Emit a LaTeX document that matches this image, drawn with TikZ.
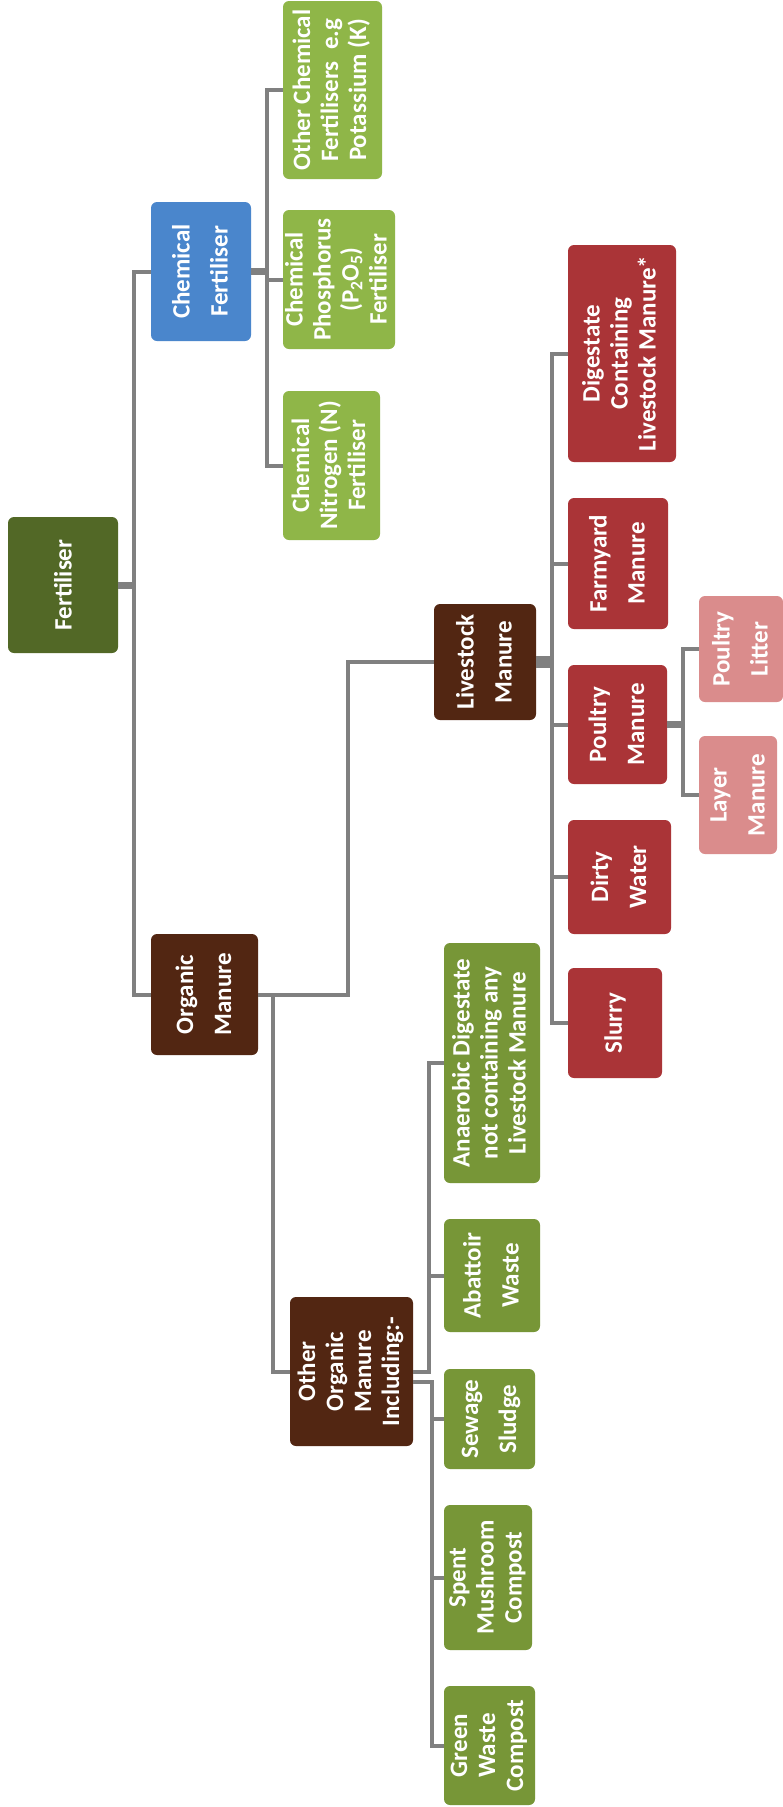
\documentclass[tikz,border=0pt]{standalone}
\usepackage{fontspec}
\setmainfont{Carlito}
\usepackage{graphicx}
\definecolor{cfert}{RGB}{82,104,38}
\definecolor{cblue}{RGB}{74,134,204}
\definecolor{clgreen}{RGB}{143,182,72}
\definecolor{cdgreen}{RGB}{119,150,55}
\definecolor{cbrown}{RGB}{82,38,18}
\definecolor{cred}{RGB}{170,52,55}
\definecolor{cpink}{RGB}{218,140,140}
\definecolor{linegray}{RGB}{128,128,128}
\newcommand\LinesWide[1]{\rotatebox{90}{\fontsize{25}{38}\selectfont\begin{tabular}{@{}c@{}}#1\end{tabular}}}
\newcommand\LinesTight[1]{\rotatebox{90}{\fontsize{25}{28}\selectfont\begin{tabular}{@{}c@{}}#1\end{tabular}}}
\tikzset{
  box/.style={rounded corners=6pt, inner sep=0pt, text=white, font=\bfseries},
  conn/.style={draw=linegray, line width=4pt},
  stubthick/.style={draw=linegray, line width=7pt},
}
\begin{document}
\begin{tikzpicture}[x=1pt,y=-1pt]
\useasboundingbox (0,0) rectangle (782,1807);
\fill[white] (0,0) rectangle (782,1807);

% nodes
\node[box, fill=cfert, minimum width=110pt, minimum height=136pt] (fert) at (63,585) {\rotatebox{90}{\fontsize{25}{30}\selectfont Fertiliser}};
\node[box, fill=cblue, minimum width=100pt, minimum height=139pt] (chem) at (201,271.5) {\LinesWide{Chemical\\Fertiliser}};
\node[box, fill=cbrown, minimum width=107pt, minimum height=121pt] (org) at (204.5,994.5) {\LinesWide{Organic\\Manure}};

\node[box, fill=clgreen, minimum width=99pt, minimum height=178pt] (othchem) at (332.5,90) {\LinesTight{Other Chemical\\Fertilisers\ \ e.g\\Potassium (K)}};
\node[box, fill=clgreen, minimum width=112pt, minimum height=139pt] (phos) at (339,279.5) {\LinesTight{Chemical\\Phosphorus\\(P\textsubscript{2}O\textsubscript{5})\\Fertiliser}};
\node[box, fill=clgreen, minimum width=97pt, minimum height=149pt] (nitro) at (331.5,465.5) {\LinesTight{Chemical\\Nitrogen (N)\\Fertiliser}};

\node[box, fill=cbrown, minimum width=102pt, minimum height=116pt] (live) at (485,662) {\LinesWide{Livestock\\Manure}};
\node[box, fill=cred, minimum width=108pt, minimum height=217pt] (dig) at (622,353.5) {\LinesTight{Digestate\\Containing\\Livestock Manure*}};
\node[box, fill=cred, minimum width=100pt, minimum height=131pt] (farm) at (618,563.5) {\LinesWide{Farmyard\\Manure}};
\node[box, fill=cred, minimum width=99pt, minimum height=119pt] (poul) at (617.5,724.5) {\LinesWide{Poultry\\Manure}};
\node[box, fill=cred, minimum width=103pt, minimum height=114pt] (dirty) at (619.5,877) {\LinesWide{Dirty\\Water}};
\node[box, fill=cred, minimum width=94pt, minimum height=110pt] (slurry) at (615,1023) {\rotatebox{90}{\fontsize{25}{30}\selectfont Slurry}};
\node[box, fill=cpink, minimum width=84pt, minimum height=106pt] (litter) at (741,649) {\LinesWide{Poultry\\Litter}};
\node[box, fill=cpink, minimum width=78pt, minimum height=118pt] (layer) at (738,795) {\LinesWide{Layer\\Manure}};

\node[box, fill=cbrown, minimum width=123pt, minimum height=149pt] (other) at (351.5,1371.5) {\LinesTight{Other\\Organic\\Manure\\Including:-}};
\node[box, fill=cdgreen, minimum width=96pt, minimum height=240pt] (anaer) at (492,1063) {\LinesTight{Anaerobic Digestate\\not containing any\\Livestock Manure}};
\node[box, fill=cdgreen, minimum width=96pt, minimum height=113pt] (abat) at (492,1275.5) {\LinesWide{Abattoir\\Waste}};
\node[box, fill=cdgreen, minimum width=91pt, minimum height=100pt] (sew) at (489.5,1419) {\LinesWide{Sewage\\Sludge}};
\node[box, fill=cdgreen, minimum width=88pt, minimum height=145pt] (spent) at (488,1577.5) {\LinesTight{Spent\\Mushroom\\Compost}};
\node[box, fill=cdgreen, minimum width=91pt, minimum height=119pt] (green) at (489.5,1745.5) {\LinesTight{Green\\Waste\\Compost}};

% bus coordinates
\coordinate (bF) at (134,0);
\coordinate (bC) at (267,0);
\coordinate (bO) at (348,0);
\coordinate (bO2) at (273,0);
\coordinate (bL) at (552,0);
\coordinate (bP) at (683,0);
\coordinate (bU) at (429,0);
\coordinate (bD) at (432,0);

% Fertiliser
\draw[stubthick] (fert.east) -- (fert.east -| bF);
\draw[conn] (chem.west) -| (bF |- org.west) -- (org.west);
% Chemical
\draw[stubthick] (chem.east) -- (chem.east -| bC);
\draw[conn] (othchem.west) -| (bC |- nitro.west) -- (nitro.west);
\draw[conn] (phos.west) -- (phos.west -| bC);
% Organic
\draw[conn] (org.east) -| (bO |- live.west) -- (live.west);
\draw[conn] (org.east -| bO2) |- (other.west);
% Livestock
\draw[conn, line width=12pt] (live.east) -- (live.east -| bL);
\draw[conn] (dig.west) -| (bL |- slurry.west) -- (slurry.west);
\draw[conn] (farm.west) -- (farm.west -| bL);
\draw[conn] (poul.west) -- (poul.west -| bL);
\draw[conn] (dirty.west) -- (dirty.west -| bL);
% Poultry
\draw[stubthick] (poul.east) -- (poul.east -| bP);
\draw[conn] (litter.west) -| (bP |- layer.west) -- (layer.west);
% Other organic
\draw[conn] (other.east) -| (bU |- anaer.west) -- (anaer.west);
\draw[conn] (abat.west) -- (abat.west -| bU);
\draw[conn] ([yshift=-10pt]other.east) -| (bD |- green.west) -- (green.west);
\draw[conn] (sew.west) -- (sew.west -| bD);
\draw[conn] (spent.west) -- (spent.west -| bD);
\end{tikzpicture}
\end{document}
